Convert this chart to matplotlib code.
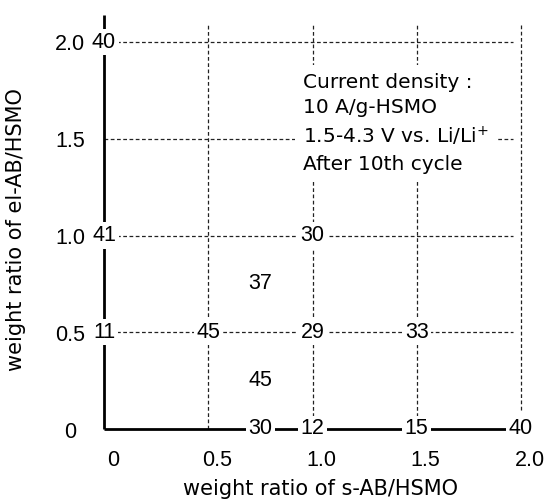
import matplotlib
matplotlib.use('Agg')
import matplotlib.pyplot as plt
from matplotlib.transforms import ScaledTranslation

plt.rcParams['font.family'] = 'Liberation Sans'

# weight ratio of s-AB/HSMO, weight ratio of el-AB/HSMO, capacity label
s_ab = [0, 0, 0, 0.5, 1.0, 1.5, 1.0, 0.75, 0.75, 0.75, 1.0, 1.5, 2.0]
el_ab = [2.0, 1.0, 0.5, 0.5, 0.5, 0.5, 1.0, 0.75, 0.25, 0, 0, 0, 0]
capacity = [40, 41, 11, 45, 29, 33, 30, 37, 45, 30, 12, 15, 40]

grid_levels = [0.5, 1.0, 1.5, 2.0]
xticks = [0, 0.5, 1.0, 1.5, 2.0]
xticklabels = ['0', '0.5', '1.0', '1.5', '2.0']
yticks = [0, 0.5, 1.0, 1.5, 2.0]
yticklabels = ['0', '0.5', '1.0', '1.5', '2.0']

note = 'Current density :\n10 A/g-HSMO\n1.5-4.3 V vs. Li/Li$^{+}$\nAfter 10th cycle'

fig = plt.figure(figsize=(5.52, 5.0), dpi=100)
ax = fig.add_axes([104/552., 71/500., 417/552., 387/500.])
ax.set_xlim(0, 2)
ax.set_ylim(0, 2)
ax.axis('off')

# dashed grid
for g in grid_levels:
    ax.plot([0, 1.96], [g, g], ls=(0, (3, 2)), lw=0.9, c='#222222', clip_on=False, zorder=1)
    y0 = 0.1 if g == 2.0 else 0
    ax.plot([g, g], [y0, 2.09], ls=(0, (3, 2)), lw=0.9, c='#222222', clip_on=False, zorder=1)

# solid axes
ax.plot([0, 0], [0, 2.14], c='k', lw=2, clip_on=False, zorder=2, solid_capstyle='butt')
ax.plot([0, 2.0], [0, 0], c='k', lw=2, clip_on=False, zorder=2, solid_capstyle='butt')

# capacity values
for x, y, c in zip(s_ab, el_ab, capacity):
    ax.text(x, y, str(c), fontsize=15.5, ha='center', va='center', zorder=5,
            bbox=dict(boxstyle='square,pad=0.12', fc='white', ec='none'))

# tick labels
off_x = ScaledTranslation(9/100., -32/100., fig.dpi_scale_trans)
for t, lab in zip(xticks, xticklabels):
    ax.text(t, 0, lab, fontsize=15.5, ha='center', va='center',
            transform=ax.transData + off_x)
off_y = ScaledTranslation(-34/100., -3/100., fig.dpi_scale_trans)
for t, lab in zip(yticks, yticklabels):
    ax.text(0, t, lab, fontsize=15.5, ha='center', va='center',
            transform=ax.transData + off_y)

ax.text(1.04, -0.31, 'weight ratio of s-AB/HSMO', fontsize=15, family='DejaVu Sans',
        ha='center', va='center')
ax.text(-0.42, 1.03, 'weight ratio of el-AB/HSMO', fontsize=15, family='DejaVu Sans',
        ha='center', va='center', rotation=90)

ax.text(0.955, 1.58, note, fontsize=14.5, family='DejaVu Sans', ha='left', va='center',
        linespacing=1.42, zorder=6,
        bbox=dict(boxstyle='square,pad=0.4', fc='white', ec='none'))

fig.savefig('out.png', dpi=100)
